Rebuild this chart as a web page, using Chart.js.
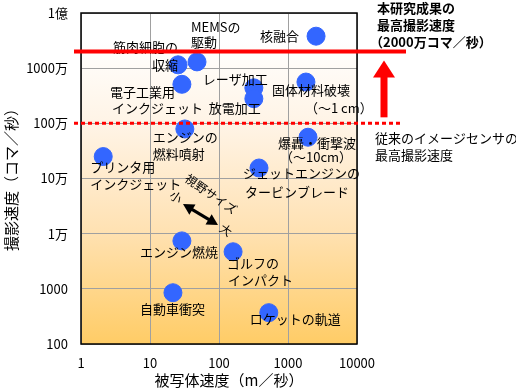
<!DOCTYPE html>
<html>
<head>
<meta charset="utf-8">
<script src="https://cdn.jsdelivr.net/npm/chart.js@4/dist/chart.umd.min.js"></script>
<style>
  body { margin: 0; background: #fff; }
  canvas { display: block; }
</style>
</head>
<body>
<canvas id="myChart" width="516" height="391"></canvas>
<script>
// data
const names = [
  ['核融合'],
  ['MEMSの', '駆動'],
  ['筋肉細胞の', '収縮'],
  ['電子工業用', 'インクジェット'],
  ['レーザ加工'],
  ['放電加工'],
  ['固体材料破壊', '（～1 cm）'],
  ['爆轟・衝撃波', '（～10cm）'],
  ['ジェットエンジンの', 'タービンブレード'],
  ['エンジンの', '燃料噴射'],
  ['プリンタ用', 'インクジェット'],
  ['エンジン燃焼'],
  ['ゴルフの', 'インパクト'],
  ['自動車衝突'],
  ['ロケットの軌道']
];
const objectSpeed = [2550, 48, 25.5, 29, 320, 320, 1820, 1950, 380, 32, 2.1, 29, 160, 21.5, 527];
const frameRate = [3.8e7, 1.3e7, 1.15e7, 5.1e6, 4.4e6, 2.8e6, 5.6e6, 5.6e5, 1.55e5, 7.9e5, 2.5e5, 7400, 4700, 850, 370];

const xTickValues = [1, 10, 100, 1000, 10000];
const xTickLabels = ['1', '10', '100', '1000', '10000'];
const yTickValues = [100, 1000, 1e4, 1e5, 1e6, 1e7, 1e8];
const yTickLabels = ['100', '1000', '1万', '10万', '100万', '1000万', '1億'];

const researchSpeed = 2e7;      // 本研究成果
const conventionalSpeed = 1e6;  // 従来のイメージセンサ

const FONT = "'Noto Sans CJK JP', 'Noto Sans', sans-serif";

// where each label line sits, relative to its point (pixels)
const labelOffsets = [
  [[-56, 0]],
  [[-6, -35], [-6, -20]],
  [[-65, -18], [-26, 0]],
  [[-72, 8], [-70, 24]],
  [[-51, -9]],
  [[-45, 9]],
  [[-34, 8], [-1, 26]],
  [[-30, 6], [-28, 20]],
  [[-16, 5], [-14, 24]],
  [[-32, 8], [-32, 25]],
  [[-13, 11], [-13, 28]],
  [[-42, 11]],
  [[-6, 11], [-5, 28]],
  [[-33, 16]],
  [[-19, 6]]
];

const points = objectSpeed.map((v, i) => ({x: v, y: frameRate[i]}));

const bgPlugin = {
  id: 'bg',
  beforeDraw(chart) {
    const {ctx, chartArea: a} = chart;
    const g = ctx.createLinearGradient(0, a.top, 0, a.bottom);
    g.addColorStop(0, '#ffffff');
    g.addColorStop(0.08, '#ffffff');
    g.addColorStop(0.35, '#fff3e4');
    g.addColorStop(0.65, '#ffe2b4');
    g.addColorStop(1, '#ffcc66');
    ctx.save();
    ctx.fillStyle = g;
    ctx.fillRect(a.left, a.top, a.right - a.left, a.bottom - a.top);
    ctx.restore();
  }
};

const notePlugin = {
  id: 'notes',
  afterDatasetsDraw(chart) {
    const {ctx, chartArea: a, scales} = chart;
    const ys = scales.y;
    ctx.save();

    // plot border
    ctx.strokeStyle = '#000';
    ctx.lineWidth = 1.5;
    ctx.strokeRect(a.left, a.top, a.right - a.left, a.bottom - a.top);

    // point labels
    ctx.fillStyle = '#000';
    ctx.font = '13px ' + FONT;
    ctx.textAlign = 'left';
    ctx.textBaseline = 'middle';
    const meta = chart.getDatasetMeta(0);
    names.forEach((lines, i) => {
      const p = meta.data[i];
      lines.forEach((t, j) => {
        const o = labelOffsets[i][j];
        ctx.fillText(t, p.x + o[0], p.y + o[1]);
      });
    });

    // red lines
    const yRes = ys.getPixelForValue(researchSpeed);
    const yConv = ys.getPixelForValue(conventionalSpeed);
    ctx.strokeStyle = '#ff0000';
    ctx.lineWidth = 4;
    ctx.beginPath();
    ctx.moveTo(a.left - 7, yRes);
    ctx.lineTo(406, yRes);
    ctx.stroke();
    ctx.lineWidth = 3;
    ctx.setLineDash([4, 3]);
    ctx.beginPath();
    ctx.moveTo(a.left - 7, yConv);
    ctx.lineTo(403, yConv);
    ctx.stroke();
    ctx.setLineDash([]);

    // red up arrow
    ctx.fillStyle = '#ff0000';
    const ax = 384;
    ctx.fillRect(ax - 3.5, yRes + 24, 7, yConv - 6 - (yRes + 24));
    ctx.beginPath();
    ctx.moveTo(ax, yRes + 9);
    ctx.lineTo(ax - 11, yRes + 26);
    ctx.lineTo(ax + 11, yRes + 26);
    ctx.closePath();
    ctx.fill();

    // right side notes
    ctx.fillStyle = '#000';
    ctx.font = 'bold 13px ' + FONT;
    ctx.fillText('本研究成果の', 377, 8);
    ctx.fillText('最高撮影速度', 377, 25);
    ctx.fillText('（2000万コマ／秒）', 370, 42);
    ctx.font = '13px ' + FONT;
    ctx.fillText('従来のイメージセンサの', 375, 138);
    ctx.fillText('最高撮影速度', 375, 155);

    // field of view arrow
    ctx.strokeStyle = '#000';
    ctx.fillStyle = '#000';
    const x1 = 183, y1 = 204, x2 = 218, y2 = 225;
    const ang = Math.atan2(y2 - y1, x2 - x1);
    ctx.lineWidth = 3;
    ctx.beginPath();
    ctx.moveTo(x1 + 8 * Math.cos(ang), y1 + 8 * Math.sin(ang));
    ctx.lineTo(x2 - 8 * Math.cos(ang), y2 - 8 * Math.sin(ang));
    ctx.stroke();
    [[x1, y1, ang + Math.PI], [x2, y2, ang]].forEach(([hx, hy, d]) => {
      ctx.beginPath();
      ctx.moveTo(hx, hy);
      ctx.lineTo(hx - 11 * Math.cos(d) + 6 * Math.sin(d), hy - 11 * Math.sin(d) - 6 * Math.cos(d));
      ctx.lineTo(hx - 11 * Math.cos(d) - 6 * Math.sin(d), hy - 11 * Math.sin(d) + 6 * Math.cos(d));
      ctx.closePath();
      ctx.fill();
    });
    ctx.font = '12px ' + FONT;
    ctx.textAlign = 'center';
    const rot = 35 * Math.PI / 180;
    [['視野サイズ', 211, 194], ['小', 176, 197], ['大', 226, 230]].forEach(([t, tx, ty]) => {
      ctx.save();
      ctx.translate(tx, ty);
      ctx.rotate(rot);
      ctx.fillText(t, 0, 0);
      ctx.restore();
    });

    // axis titles
    ctx.font = '15px ' + FONT;
    ctx.textAlign = 'center';
    ctx.fillText('被写体速度（m／秒）', 229, 380);
    ctx.save();
    ctx.translate(11, 176);
    ctx.rotate(-Math.PI / 2);
    ctx.fillText('撮影速度（コマ／秒）', 0, 0);
    ctx.restore();

    ctx.restore();
  }
};

const ctx = document.getElementById('myChart');
const myChart = new Chart(ctx, {
  type: 'scatter',
  data: {
    datasets: [{
      data: points,
      backgroundColor: '#3366ff',
      borderColor: '#3366ff',
      pointRadius: 9,
      pointHoverRadius: 9
    }]
  },
  options: {
    responsive: false,
    animation: false,
    devicePixelRatio: 1,
    layout: { padding: { top: 13, right: 159, left: 0, bottom: 0 } },
    plugins: { legend: { display: false }, tooltip: { enabled: false } },
    scales: {
      x: {
        type: 'logarithmic', min: 1, max: 10000,
        afterBuildTicks: s => { s.ticks = xTickValues.map(v => ({value: v})); },
        afterFit: s => { s.height = 47; },
        ticks: {
          callback: (v, i) => xTickLabels[i],
          color: '#000', font: { family: FONT, size: 13 },
          padding: 11, maxRotation: 0, autoSkip: false
        },
        grid: { color: '#a0a0a0', drawTicks: false },
        border: { display: false }
      },
      y: {
        type: 'logarithmic', min: 100, max: 1e8,
        afterBuildTicks: s => { s.ticks = yTickValues.map(v => ({value: v})); },
        afterFit: s => { s.width = 81; s.paddingTop = 0; s.paddingBottom = 0; },
        ticks: {
          callback: (v, i) => yTickLabels[i],
          color: '#000', font: { family: FONT, size: 13 },
          padding: 13, autoSkip: false
        },
        grid: { color: '#a0a0a0', drawTicks: false },
        border: { display: false }
      }
    }
  },
  plugins: [bgPlugin, notePlugin]
});
</script>
</body>
</html>
